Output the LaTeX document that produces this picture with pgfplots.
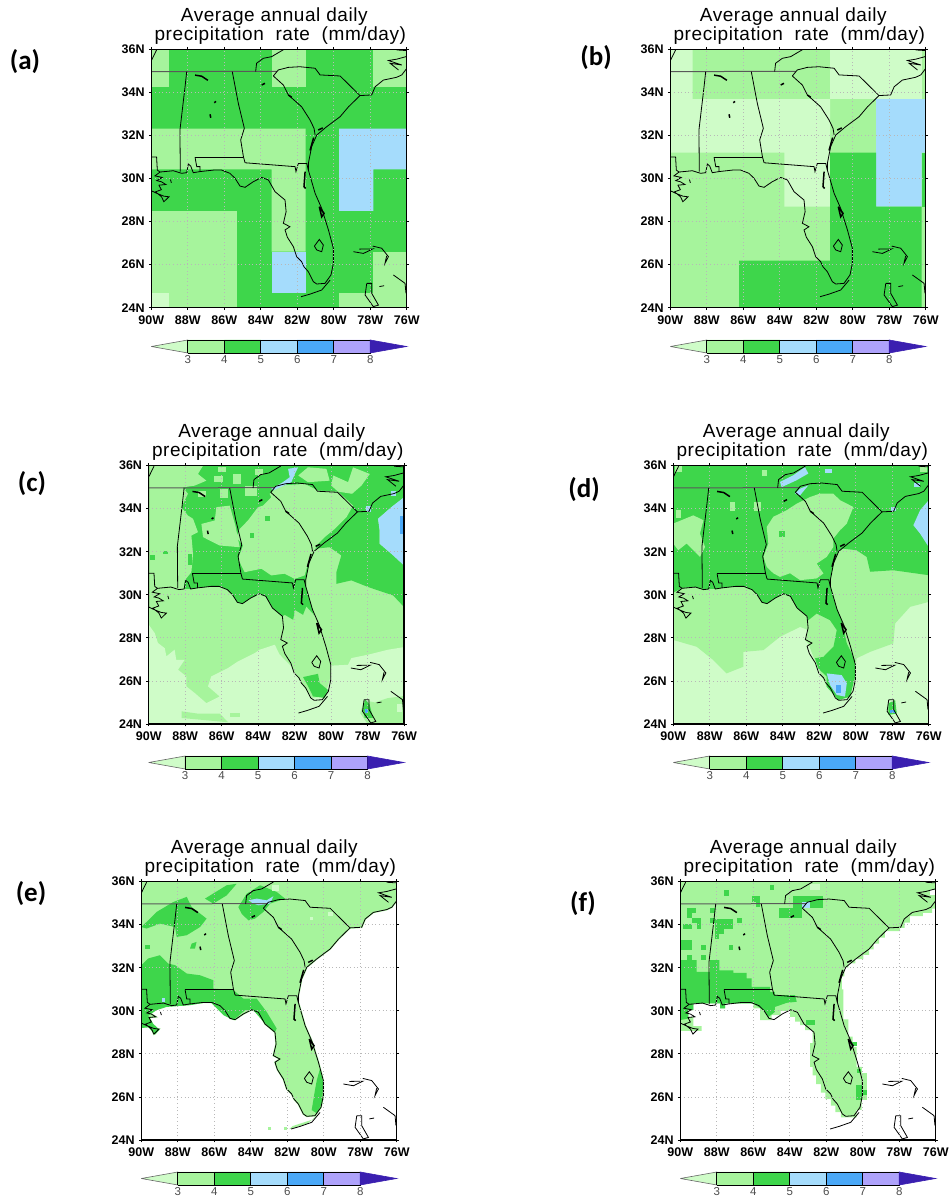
\documentclass[border=0pt]{standalone}
\usepackage{pgfplots}
\usepackage{pgfplotstable}
\usepackage{fontspec}
\pgfplotsset{compat=1.18}
\setmainfont{Liberation Sans}
\newfontfamily\letterfont{Carlito}
\newfontfamily\titlefont[LetterSpace=3]{Liberation Sans}
\definecolor{vl}{HTML}{CFFCC8}
\definecolor{lg}{HTML}{A6F49C}
\definecolor{gr}{HTML}{3ED64B}
\definecolor{lb}{HTML}{A5DCFC}
\definecolor{bl}{HTML}{4AA8F7}
\definecolor{pu}{HTML}{AEA2FB}
\definecolor{dk}{HTML}{3A1FB0}
\pgfplotstableread{
lon lat
-90 36
-90 29.43
-89.67 29.30
-89.31 29.18
-89.03 29.15
-89.31 28.92
-89.44 29.15
-89.77 29.38
-89.45 29.48
-89.58 29.69
-89.20 29.72
-89.45 29.85
-89.70 29.90
-89.40 30.05
-89.80 30.12
-89.52 30.30
-88.79 30.36
-88.34 30.24
-88.06 30.27
-87.97 30.67
-87.84 30.58
-87.70 30.27
-87.33 30.32
-86.60 30.39
-86.14 30.39
-85.69 30.24
-85.41 30.01
-85.14 29.65
-84.86 29.59
-84.41 29.85
-83.95 30.05
-83.58 29.93
-83.22 29.39
-82.67 29.00
-82.61 28.46
-82.76 27.92
-82.40 27.76
-82.67 27.61
-82.54 27.27
-82.21 26.83
-82.03 26.37
-81.76 26.14
-81.63 25.90
-81.39 25.67
-81.12 25.21
-80.93 25.10
-80.48 25.13
-80.15 25.52
-80.02 26.06
-80.02 26.76
-80.29 27.61
-80.66 28.61
-81.02 29.31
-81.39 30.39
-81.39 30.70
-81.21 31.48
-80.93 32.02
-80.38 32.41
-79.65 32.87
-79.19 33.33
-78.56 33.85
-77.92 33.88
-77.73 34.26
-77.28 34.57
-76.55 34.70
-76.27 34.81
-76.00 35.11
-76 36
-90 36
}\landtab
\newcommand{\cl}[1]{\addplot[black,line width=0.8pt] coordinates {#1};}
\newcommand{\lk}[1]{\addplot[black,line width=1.5pt] coordinates {#1};}
\newcommand{\poly}[2]{\addplot[fill=#1,draw=none] coordinates {#2};}
\newcommand{\blk}[5]{\addplot[fill=#1,draw=none] coordinates {(#2,#3)(#4,#3)(#4,#5)(#2,#5)};}
\newcommand{\maplines}{%
\addplot[black,line width=0.8pt] table[x=lon,y=lat] {\landtab};
\addplot[black!65,line width=1pt] coordinates {(-90,34.96)(-83.12,34.98)};
\cl{(-83.31,34.76)(-83.04,35.04)(-82.49,35.16)(-81.85,35.19)(-81.02,35.12)(-80.75,34.81)(-79.65,34.76)(-78.56,33.85)}
\cl{(-84.28,34.96)(-84.23,35.35)(-83.86,35.58)(-83.40,35.66)(-82.76,35.98)}
\cl{(-83.31,34.76)(-82.76,34.34)(-82.49,33.88)(-81.76,33.33)(-81.30,32.72)(-81.08,32.33)(-81.02,32.02)}
\cl{(-88.06,34.96)(-88.15,34.26)(-88.43,32.25)(-88.41,30.32)}
\cl{(-85.56,34.96)(-85.23,33.49)(-84.90,32.33)(-85.10,31.79)(-84.95,31.01)(-84.86,30.73)}
\cl{(-87.60,30.98)(-84.95,30.98)}
\cl{(-87.60,30.98)(-87.51,30.55)(-87.33,30.55)(-87.33,30.32)}
\cl{(-84.86,30.73)(-82.12,30.55)(-82.07,30.32)(-81.94,30.70)(-81.48,30.70)(-81.39,30.39)}
\cl{(-90,31)(-89.71,31)(-89.67,30.39)(-89.52,30.30)}
\cl{(-81.06,26.86)(-80.79,27.17)(-80.57,26.91)(-80.66,26.60)(-80.93,26.68)(-81.06,26.86)}
\lk{(-80.79,28.69)(-80.53,28.38)(-80.66,28.22)(-80.79,28.69)}
\lk{(-81.57,30.32)(-81.63,29.62)(-81.54,29.54)}
\lk{(-81.30,31.30)(-81.10,31.90)}
\lk{(-87.60,34.80)(-87.24,34.75)(-86.90,34.56)}
\lk{(-83.95,34.34)(-83.77,34.42)}
\lk{(-82.49,33.88)(-82.30,33.77)}
\lk{(-86.55,33.52)(-86.45,33.58)}
\lk{(-86.78,32.98)(-86.74,32.82)}
\lk{(-80.85,32.25)(-80.60,32.35)}
\cl{(-81.79,24.51)(-81.30,24.63)(-80.66,24.82)(-80.20,25.28)}
\cl{(-78.92,26.60)(-78.37,26.52)(-77.86,26.73)(-78.60,26.72)}
\cl{(-77.86,26.86)(-77.37,26.76)(-77.00,26.37)(-77.19,26.06)(-77.10,26.40)}
\cl{(-76.73,25.52)(-76.09,25.13)(-76.04,24.67)}
\cl{(-78.19,25.13)(-77.92,25.13)(-77.92,24.67)(-77.55,24.12)(-77.83,24.05)(-78.28,24.59)(-78.19,25.13)}
\cl{(-77.50,24.98)(-77.24,25.02)}
\cl{(-76.45,35.04)(-76.91,35.35)(-76.27,35.27)(-77.00,35.48)(-76.55,35.54)(-76.03,35.66)}
\cl{(-76.55,35.97)(-76.00,35.94)}
\cl{(-89.71,35.97)(-89.89,35.66)(-89.98,35.50)}
\cl{(-88.95,29.95)(-88.90,29.80)}
}
\pgfplotsset{
 mapax/.style={scale only axis,width=255.4pt,height=258.4pt,
  xmin=-90,xmax=-76,ymin=24,ymax=36,anchor=south west,axis on top,
  xtick={-90,-88,-86,-84,-82,-80,-78,-76},
  xticklabels={90W,88W,86W,84W,82W,80W,78W,76W},
  ytick={24,26,28,30,32,34,36},
  yticklabels={24N,26N,28N,30N,32N,34N,36N},
  tick align=outside,major tick length=2.5pt,
  tick style={black,line width=0.8pt},
  axis line style={black,line width=1.4pt},
  grid=major,grid style={dash pattern=on 1pt off 2.6pt,black!28,line width=0.8pt},
  xticklabel style={font=\fontsize{12.5}{13}\selectfont\bfseries,yshift=-4.5pt,inner sep=1pt},
  yticklabel style={font=\fontsize{12.5}{13}\selectfont\bfseries,xshift=-3pt,inner sep=1pt},
 },
 cbax/.style={scale only axis,width=255.4pt,height=13pt,xmin=2,xmax=9,ymin=0,ymax=1,
  anchor=south west,clip=false,axis y line=none,axis x line=bottom,
  x axis line style={draw=none,-},
  xtick={3,4,5,6,7,8},xticklabels={3,4,5,6,7,8},
  tick style={draw=none},
  xticklabel style={font=\fontsize{11.5}{12}\selectfont,text=black!70,yshift=0.5pt,inner sep=1pt},
 }
}
\newcommand{\cbar}[2]{%
\begin{axis}[cbax,at={(#1pt,#2pt)}]
\addplot[fill=vl,draw=black!60,line width=0.6pt] coordinates {(2,0.5)(3,1)(3,0)(2,0.5)};
\addplot[fill=lg,draw=black,line width=0.7pt] coordinates {(3,0)(4,0)(4,1)(3,1)(3,0)};
\addplot[fill=gr,draw=black,line width=0.7pt] coordinates {(4,0)(5,0)(5,1)(4,1)(4,0)};
\addplot[fill=lb,draw=black,line width=0.7pt] coordinates {(5,0)(6,0)(6,1)(5,1)(5,0)};
\addplot[fill=bl,draw=black,line width=0.7pt] coordinates {(6,0)(7,0)(7,1)(6,1)(6,0)};
\addplot[fill=pu,draw=black,line width=0.7pt] coordinates {(7,0)(8,0)(8,1)(7,1)(7,0)};
\addplot[fill=dk,draw=dk,line width=0.6pt] coordinates {(8,0)(9,0.5)(8,1)(8,0)};
\end{axis}}
\newcommand{\titles}[3]{%
\node[font=\titlefont\fontsize{19}{20}\selectfont,anchor=center] at ({#1+123},{1200-#2+32.5}) {Average\ annual\ daily};
\node[font=\titlefont\fontsize{19}{20}\selectfont,anchor=center] at ({#1+129},{1200-#2+14}) {precipitation\ \ rate\ \ (mm/day)};
}
\begin{document}
\begin{tikzpicture}
\begin{scope}[x=1pt,y=1pt]
\path (0,0) rectangle (950,1200);
\titles{151.3}{49.3}{}
\titles{670.3}{49.3}{}
\titles{148.7}{465.3}{}
\titles{673.3}{465.3}{}
\titles{141.3}{881.3}{}
\titles{680.3}{881.3}{}
\node[font=\letterfont\bfseries\fontsize{27}{28}\selectfont] at (25,1138) {(a)};
\node[font=\letterfont\bfseries\fontsize{27}{28}\selectfont] at (596,1142) {(b)};
\node[font=\letterfont\bfseries\fontsize{27}{28}\selectfont] at (32,716) {(c)};
\node[font=\letterfont\bfseries\fontsize{27}{28}\selectfont] at (584,710) {(d)};
\node[font=\letterfont\bfseries\fontsize{27}{28}\selectfont] at (31,306) {(e)};
\node[font=\letterfont\bfseries\fontsize{27}{28}\selectfont] at (583,296) {(f)};
\end{scope}
% ---------- (a)
\begin{axis}[mapax,at={(151.3pt,892.3pt)}]
\blk{gr}{-90}{24}{-76}{36}
\blk{lg}{-90}{34.23}{-89.03}{36}
\blk{lg}{-83.40}{34.23}{-81.54}{36}
\blk{lg}{-77.83}{34.23}{-76}{36}
\poly{lg}{(-90,32.31)(-81.54,32.31)(-81.54,26.60)(-83.40,26.60)(-83.40,30.42)(-90,30.42)}
\blk{lg}{-90}{24}{-85.28}{28.50}
\blk{vl}{-90}{24}{-89.03}{24.70}
\blk{lg}{-77.83}{24}{-76}{26.60}
\blk{lg}{-79.70}{24}{-77.83}{24.70}
\blk{lb}{-83.40}{24.70}{-81.54}{26.60}
\poly{lb}{(-79.70,32.31)(-76,32.31)(-76,30.42)(-77.83,30.42)(-77.83,28.50)(-79.70,28.50)}
\maplines
\end{axis}
\cbar{151.3}{847}
% ---------- (b)
\begin{axis}[mapax,at={(670.3pt,892.3pt)}]
\blk{lg}{-90}{24}{-76}{36}
\poly{vl}{(-90,36)(-88.78,36)(-88.78,33.69)(-81.24,33.69)(-81.24,28.69)(-83.75,28.69)(-83.75,31.20)(-90,31.20)}
\poly{vl}{(-81.24,36)(-76.22,36)(-76.22,33.69)(-81.24,33.69)}
\poly{lb}{(-78.72,33.69)(-76,33.69)(-76,31.20)(-76.22,31.20)(-76.22,28.69)(-78.72,28.69)}
\poly{gr}{(-81.24,31.20)(-78.72,31.20)(-78.72,28.69)(-76.22,28.69)(-76.22,24)(-86.23,24)(-86.23,26.18)(-81.24,26.18)}
\blk{gr}{-76.22}{28.69}{-76}{31.20}
\maplines
\end{axis}
\cbar{670.3}{847}
% ---------- (c)
\begin{axis}[mapax,at={(148.7pt,476pt)}]
\blk{lg}{-90}{24}{-76}{36}
\poly{vl}{(-90,28.61)(-89.67,28.22)(-89.49,27.76)(-89.12,27.52)(-89.03,27.14)(-88.58,27.45)(-88.49,26.98)(-88.03,26.98)(-88.39,26.52)(-87.94,26.21)(-87.94,25.75)(-87.48,25.44)(-86.84,24.97)(-86.11,25.28)(-86.75,25.75)(-86.57,26.21)(-85.65,26.60)(-85.10,26.91)(-84.19,27.29)(-83.92,27.45)(-83.09,27.68)(-82.82,27.22)(-82.18,26.67)(-81.63,25.90)(-81.08,25.21)(-80.35,25.28)(-80.02,26.21)(-79.99,26.71)(-79.07,26.75)(-78.89,27.06)(-77.97,27.22)(-76.88,27.45)(-76,27.57)(-76,24)(-90,24)}
\poly{lg}{(-88.20,24.59)(-87.30,24.48)(-86.10,24.48)(-85.65,24.08)(-88.20,24.28)}
\poly{lg}{(-85.56,24.51)(-85.01,24.51)(-85.01,24.33)(-85.56,24.33)}
\poly{lg}{(-76,25.30)(-76.90,25.20)(-77.60,25.00)(-78.20,25.10)(-78.40,24.50)(-78.00,24.00)(-76,24)}
\poly{vl}{(-76.40,24.95)(-76.10,24.95)(-76.10,24.55)(-76.40,24.55)}
\poly{gr}{(-78.26,24.66)(-78.13,25.13)(-77.89,24.90)(-77.70,24.28)(-78.16,24.28)}
\blk{bl}{-78.15}{24.50}{-78.00}{24.68}
\poly{gr}{(-81.54,26.18)(-80.72,26.33)(-80.63,25.90)(-80.17,25.58)(-80.35,25.21)(-80.99,25.28)(-81.26,25.75)}
\poly{gr}{(-90,36)(-76,36)(-76,34.53)(-76.70,34.07)(-77.43,33.53)(-77.34,32.99)(-77.34,32.37)(-76.60,31.83)(-76,31.36)(-76,29.43)(-76.60,29.97)(-77.97,30.36)(-78.89,30.67)(-79.71,30.51)(-79.71,31.05)(-79.44,31.83)(-80.08,32.21)(-80.90,32.14)(-81.21,31.48)(-81.39,30.70)(-81.39,30.39)(-81.02,29.31)(-80.94,29.07)(-81.36,29.46)(-81.54,29.07)(-81.99,29.30)(-82.08,28.84)(-82.54,29.07)(-82.67,29.00)(-83.22,29.39)(-83.58,29.93)(-83.95,30.05)(-84.41,29.85)(-84.86,29.59)(-85.14,29.65)(-85.41,30.01)(-85.69,30.24)(-86.14,30.39)(-86.60,30.39)(-87.33,30.32)(-87.70,30.27)(-88.06,30.27)(-88.34,30.24)(-88.79,30.36)(-89.52,30.32)(-90,30.10)}
\poly{lg}{(-90,36)(-87.02,36)(-87.30,35.61)(-86.84,35.30)(-87.48,35.07)(-88.12,34.99)(-87.85,34.69)(-88.21,34.07)(-87.85,33.68)(-87.57,33.53)(-87.30,32.91)(-87.66,32.75)(-87.57,31.90)(-87.66,31.05)(-88.03,30.67)(-88.07,30.25)(-90,30.10)}
\poly{lg}{(-83.37,34.69)(-82.82,35.07)(-81.45,35.15)(-80.72,34.84)(-79.62,34.79)(-78.80,34.14)(-79.16,33.60)(-79.80,33.06)(-80.35,32.68)(-80.72,32.37)(-80.99,31.98)(-81.30,31.36)(-81.45,30.90)(-82.00,30.74)(-82.55,30.98)(-83.28,30.90)(-83.82,31.21)(-84.74,31.05)(-85.10,31.67)(-84.83,32.29)(-85.20,32.68)(-85.01,33.06)(-84.56,33.45)(-84.01,34.07)(-83.73,34.14)(-83.28,34.53)}
\poly{lg}{(-87.11,33.29)(-86.38,33.45)(-86.29,34.07)(-85.56,34.14)(-85.25,33.22)(-85.01,32.21)(-86.11,32.29)(-86.66,32.52)(-87.02,32.68)}
\blk{lg}{-86.10}{34.50}{-85.65}{34.90}
\blk{lg}{-85.38}{35.15}{-84.95}{35.60}
\blk{lg}{-86.40}{35.25}{-85.95}{35.50}
\blk{lg}{-84.70}{34.60}{-84.05}{35.05}
\blk{lg}{-86.20}{35.69}{-85.74}{35.92}
\blk{lg}{-84.19}{35.54}{-83.73}{35.85}
\blk{lg}{-87.30}{34.53}{-86.84}{34.84}
\blk{gr}{-83.64}{33.45}{-83.37}{33.68}
\blk{gr}{-84.45}{32.65}{-84.25}{32.85}
\blk{gr}{-87.85}{31.40}{-87.60}{31.90}
\blk{gr}{-89.95}{31.60}{-89.65}{31.85}
\blk{gr}{-89.20}{31.90}{-88.95}{32.05}
\poly{lg}{(-81.80,35.54)(-81.27,35.92)(-80.26,35.85)(-80.08,35.30)(-81.27,35.23)}
\poly{lg}{(-79.89,35.54)(-79.07,35.23)(-78.80,35.92)(-77.88,35.61)(-78.34,35.07)(-78.85,34.69)(-79.62,34.79)(-79.99,35.07)}
\poly{lb}{(-82.36,35.85)(-81.81,35.92)(-81.99,35.61)(-82.18,35.23)(-83.19,34.84)(-83.28,34.92)(-82.64,35.23)(-82.27,35.46)}
\poly{lb}{(-76,34.53)(-76.70,34.07)(-77.43,33.53)(-77.34,32.99)(-77.34,32.37)(-76.60,31.83)(-76,31.36)}
\blk{bl}{-76.24}{32.83}{-76}{33.68}
\blk{lb}{-78.07}{33.84}{-77.80}{34.14}
\blk{lb}{-76.70}{34.60}{-76.45}{34.80}
\maplines
\end{axis}
\cbar{148.7}{431}
% ---------- (d)
\begin{axis}[mapax,at={(673.3pt,476pt)}]
\blk{vl}{-90}{24}{-76}{36}
\poly{lg}{(-90,27.90)(-88.72,27.59)(-87.81,26.97)(-87.08,26.35)(-86.16,26.66)(-86.16,27.35)(-85.06,27.43)(-84.15,28.05)(-83.05,28.51)(-82.60,28.36)(-82.78,27.90)(-82.60,27.74)(-82.32,27.12)(-82.05,26.58)(-81.59,25.73)(-80.95,25.11)(-80.31,25.27)(-80.04,26.20)(-79.95,27.05)(-79.21,27.35)(-77.94,27.74)(-77.84,28.67)(-77.02,29.44)(-76,29.67)(-76,36)(-90,36)}
\poly{gr}{(-90,36)(-76,36)(-76,30.91)(-77.94,31.14)(-79.21,31.07)(-79.40,31.76)(-79.95,32.07)(-80.77,32.15)(-80.93,32.02)(-81.21,31.48)(-81.39,30.70)(-81.39,30.39)(-81.02,29.31)(-80.77,28.82)(-80.49,27.74)(-80.04,26.97)(-80.04,26.20)(-80.31,25.27)(-80.95,25.11)(-81.59,25.73)(-81.59,26.20)(-82.05,26.58)(-82.23,27.05)(-81.77,27.12)(-81.22,27.59)(-81.04,28.36)(-81.41,28.82)(-82.14,29.13)(-82.60,28.82)(-82.67,29.00)(-83.22,29.39)(-83.58,29.93)(-83.95,30.05)(-84.41,29.85)(-84.86,29.59)(-85.14,29.65)(-85.41,30.01)(-85.69,30.24)(-86.14,30.39)(-86.60,30.39)(-87.33,30.32)(-87.70,30.27)(-88.06,30.27)(-88.34,30.24)(-88.79,30.36)(-89.52,30.32)(-90,30.10)}
\poly{lg}{(-82.50,34.54)(-81.96,34.70)(-81.23,34.70)(-80.86,34.39)(-80.13,34.08)(-80.49,33.31)(-80.86,33.00)(-81.23,32.61)(-81.23,32.22)(-81.59,31.76)(-82.14,31.45)(-81.77,30.99)(-82.14,30.76)(-83.05,30.68)(-83.60,31.00)(-84.15,30.83)(-84.52,31.00)(-84.88,31.30)(-85.06,31.76)(-84.79,32.38)(-84.88,33.15)(-84.52,33.62)(-83.78,33.93)(-83.24,34.23)}
\poly{lg}{(-90,33.31)(-88.90,33.69)(-88.35,33.46)(-88.54,32.84)(-88.26,32.22)(-88.54,31.76)(-89.27,32.38)(-89.73,32.07)(-90,32.38)}
\blk{lg}{-89.85}{33.55}{-89.60}{33.95}
\blk{lg}{-85.60}{33.90}{-85.20}{34.30}
\blk{lg}{-86.90}{33.90}{-86.60}{34.30}
\blk{lg}{-85.15}{35.50}{-84.85}{35.80}
\blk{lg}{-76.50}{35.70}{-76.10}{36}
\blk{lg}{-89.90}{35.70}{-89.55}{35.98}
\blk{gr}{-84.20}{32.70}{-83.90}{32.95}
\poly{lb}{(-76,34.39)(-76.47,33.93)(-76.84,33.23)(-76.47,32.84)(-76,32.22)}
\poly{lb}{(-81.59,26.35)(-80.77,26.27)(-80.49,25.89)(-80.59,25.27)(-81.04,25.35)(-81.41,25.81)}
\blk{bl}{-81.08}{25.42}{-80.82}{25.81}
\poly{lb}{(-83.05,34.93)(-82.60,35.08)(-83.05,34.62)(-83.33,34.70)}
\poly{lb}{(-84.15,35.24)(-83.42,35.55)(-82.78,35.93)(-82.60,35.63)(-83.24,35.32)(-84.06,35.00)}
\blk{lb}{-81.70}{35.65}{-81.30}{35.85}
\blk{lb}{-78.05}{33.88}{-77.80}{34.10}
\blk{lb}{-76.80}{35.00}{-76.50}{35.20}
\poly{gr}{(-78.21,24.96)(-77.84,25.11)(-77.75,24.49)(-78.21,24.42)}
\blk{bl}{-78.10}{24.49}{-77.84}{24.65}
\maplines
\end{axis}
\cbar{673.3}{431}
% ---------- (e)
\begin{axis}[mapax,at={(141.3pt,60pt)}]
\addplot[fill=lg,draw=lg,line width=1.6pt] table[x=lon,y=lat] {\landtab};
\poly{gr}{(-90,32.12)(-89.62,32.43)(-88.98,32.58)(-88.52,32.19)(-88.15,32.12)(-87.51,31.73)(-86.78,31.65)(-86.05,31.42)(-86.05,31.03)(-84.95,30.96)(-84.41,30.57)(-83.68,30.57)(-83.13,29.95)(-82.58,29.18)(-82.67,29.02)(-83.31,29.49)(-83.86,30.03)(-84.31,30.03)(-84.95,29.57)(-85.50,29.80)(-86.23,30.42)(-87.33,30.26)(-88.61,30.18)(-89.16,30.03)(-89.62,29.77)(-89.34,29.39)(-89.00,29.12)(-89.25,28.89)(-89.60,29.23)(-90,29.20)}
\poly{gr}{(-90,33.89)(-89.62,34.20)(-89.16,34.59)(-88.25,35.05)(-87.51,35.29)(-87.24,34.82)(-86.42,34.28)(-86.78,33.89)(-87.51,33.51)(-88.06,33.43)(-88.15,33.89)(-88.98,34.05)(-89.71,33.82)}
\poly{gr}{(-86.51,35.21)(-85.32,35.83)(-84.77,35.90)(-85.32,35.36)(-86.05,34.98)}
\poly{gr}{(-84.68,34.82)(-84.22,35.44)(-83.49,35.83)(-82.58,35.52)(-82.12,35.21)(-82.94,34.98)(-83.31,34.59)(-83.77,34.28)(-84.13,34.20)(-84.50,34.51)}
\poly{lb}{(-84.13,35.13)(-83.67,35.21)(-83.13,35.13)(-82.76,35.32)(-82.94,34.98)(-83.58,34.90)(-83.86,34.98)}
\poly{gr}{(-87.24,33.12)(-86.97,33.20)(-87.06,32.89)(-87.33,32.89)}
\blk{gr}{-89.80}{32.89}{-89.52}{33.04}
\blk{lb}{-88.88}{30.42}{-88.68}{30.58}
\poly{gr}{(-80.20,27.32)(-80.02,26.63)(-80.11,25.70)(-80.38,25.24)(-80.66,25.39)(-80.48,26.32)(-80.38,26.78)}
\blk{vl}{-82.85}{35.55}{-82.45}{35.85}
\blk{vl}{-79.75}{34.40}{-79.50}{34.60}
\blk{vl}{-80.78}{34.20}{-80.60}{34.35}
\poly{lg}{(-81.90,24.50)(-80.90,24.75)(-80.30,25.20)(-80.60,24.95)(-81.70,24.65)}
\blk{lg}{-83.03}{24.47}{-82.87}{24.62}
\blk{lg}{-82.20}{24.46}{-82.04}{24.62}
\maplines
\end{axis}
\cbar{141.3}{15}
% ---------- (f)
\begin{axis}[mapax,at={(680.3pt,60pt)}]
\poly{lg}{(-90,29.07)(-88.83,29.07)(-88.83,29.29)(-89.29,29.29)(-89.29,29.72)(-89.56,29.72)(-89.56,30.03)(-89.29,30.03)(-89.29,30.34)(-87.82,30.34)(-87.82,30.11)(-87.55,30.11)(-87.55,30.34)(-86.00,30.34)(-86.00,30.11)(-85.63,30.11)(-85.63,29.57)(-85.00,29.57)(-85.00,29.80)(-84.50,29.80)(-84.50,30.00)(-83.98,30.00)(-83.98,29.72)(-83.71,29.72)(-83.71,29.50)(-83.43,29.50)(-83.43,29.33)(-83.16,29.33)(-83.16,29.10)(-82.75,29.10)(-82.75,28.50)(-82.89,28.50)(-82.89,27.40)(-82.75,27.40)(-82.75,27.00)(-82.55,27.00)(-82.55,26.60)(-82.30,26.60)(-82.30,26.20)(-82.05,26.20)(-82.05,25.90)(-81.75,25.90)(-81.75,25.60)(-81.50,25.60)(-81.50,25.30)(-81.20,25.30)(-81.20,25.05)(-80.33,25.05)(-80.33,25.40)(-80.06,25.40)(-80.06,25.86)(-79.78,25.86)(-79.78,27.10)(-80.05,27.10)(-80.05,27.40)(-80.33,27.40)(-80.33,28.33)(-80.55,28.33)(-80.55,28.80)(-80.79,28.80)(-80.79,29.60)(-81.06,29.60)(-81.06,31.00)(-81.15,31.00)(-81.15,31.60)(-81.00,31.60)(-81.00,32.00)(-80.79,32.00)(-80.79,32.20)(-80.40,32.20)(-80.40,32.40)(-79.96,32.40)(-79.96,32.60)(-79.65,32.60)(-79.65,32.85)(-79.40,32.85)(-79.40,33.12)(-79.10,33.12)(-79.10,33.40)(-78.78,33.40)(-78.78,33.70)(-77.95,33.70)(-77.95,33.85)(-77.70,33.85)(-77.70,34.10)(-77.41,34.10)(-77.41,34.40)(-76.70,34.40)(-76.70,34.55)(-76.20,34.55)(-76.20,34.75)(-76,34.75)(-76,36)(-90,36)}
\poly{gr}{(-90,32.35)(-89.10,32.35)(-89.10,31.81)(-88.37,31.81)(-88.37,32.35)(-87.86,32.35)(-87.86,31.88)(-87.09,31.88)(-87.09,31.76)(-86.36,31.76)(-86.36,31.50)(-86.09,31.50)(-86.09,31.11)(-85.08,31.11)(-85.08,30.88)(-84.81,30.88)(-84.81,30.73)(-83.71,30.73)(-83.62,30.42)(-84.17,30.37)(-84.81,30.18)(-84.81,29.95)(-85.17,29.72)(-85.45,30.03)(-86.00,30.34)(-87.55,30.34)(-87.55,30.11)(-87.82,30.11)(-87.82,30.34)(-89.29,30.34)(-89.29,30.03)(-89.56,30.03)(-89.56,29.64)(-90,29.57)}
\blk{gr}{-89.65}{34.54}{-89.14}{34.79}
\blk{gr}{-89.62}{34.33}{-89.36}{34.54}
\blk{gr}{-89.36}{34.08}{-88.85}{34.33}
\blk{gr}{-89.10}{33.82}{-88.85}{34.08}
\blk{gr}{-89.87}{33.82}{-89.36}{34.05}
\blk{gr}{-88.37}{34.54}{-88.10}{34.79}
\blk{gr}{-88.37}{34.08}{-88.10}{34.33}
\blk{gr}{-88.10}{33.82}{-87.09}{34.28}
\blk{gr}{-88.10}{33.58}{-87.61}{33.82}
\blk{gr}{-88.10}{33.35}{-87.86}{33.58}
\blk{gr}{-86.87}{34.08}{-86.62}{34.31}
\blk{gr}{-89.96}{32.81}{-89.36}{33.31}
\blk{gr}{-88.85}{32.81}{-88.59}{33.04}
\blk{gr}{-87.35}{32.81}{-87.09}{33.04}
\blk{gr}{-89.65}{32.35}{-89.36}{32.58}
\blk{gr}{-88.85}{32.35}{-88.59}{32.58}
\blk{gr}{-85.08}{35.60}{-84.84}{35.83}
\blk{gr}{-87.61}{35.35}{-87.35}{35.60}
\blk{gr}{-86.09}{35.05}{-85.61}{35.35}
\blk{gr}{-85.85}{34.82}{-85.61}{35.05}
\blk{gr}{-84.61}{34.33}{-83.35}{34.79}
\blk{gr}{-83.84}{34.79}{-82.16}{35.35}
\blk{lb}{-83.35}{34.79}{-82.89}{35.05}
\blk{gr}{-83.11}{29.33}{-82.61}{29.57}
\blk{gr}{-80.64}{28.36}{-80.33}{28.56}
\blk{gr}{-80.37}{25.86}{-80.06}{26.55}
\blk{gr}{-80.06}{26.09}{-79.78}{26.32}
\blk{gr}{-80.33}{27.09}{-80.09}{27.32}
\blk{vl}{-82.89}{35.63}{-82.34}{35.87}
\blk{white}{-76.31}{35.36}{-76.03}{35.60}
\maplines
\end{axis}
\cbar{680.3}{15}
\end{tikzpicture}
\end{document}
